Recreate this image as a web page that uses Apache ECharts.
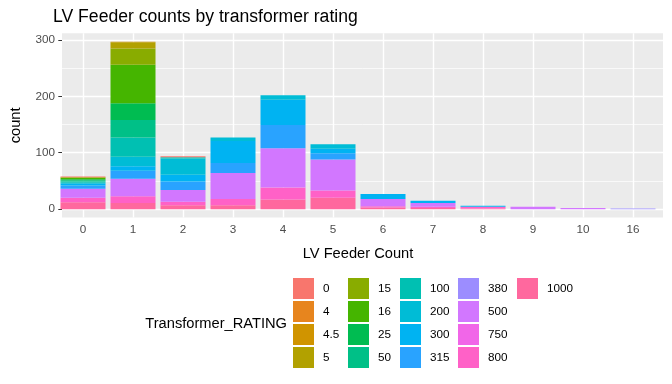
<!DOCTYPE html>
<html>
<head>
<meta charset="utf-8">
<script src="https://cdn.jsdelivr.net/npm/echarts@6/dist/echarts.min.js"></script>
<style>
html,body{margin:0;padding:0;background:#fff;}
#chart{width:672px;height:384px;}
</style>
</head>
<body>
<div id="chart"></div>
<script>
// ---- data ----
const categories = ['0','1','2','3','4','5','6','7','8','9','10','16'];
const ratings = ['0','4','4.5','5','15','16','25','50','100','200','300','315','380','500','750','800','1000'];
const r0    = [1, 0, 2, 0, 0, 0, 0, 0, 0, 0, 0, 0];
const r4    = [1, 0, 0, 0, 0, 0, 0, 0, 0, 0, 0, 0];
const r4_5  = [0, 1, 0, 0, 0, 0, 0, 0, 0, 0, 0, 0];
const r5    = [0, 11, 0, 0, 0, 0, 0, 0, 0, 0, 0, 0];
const r15   = [0, 29, 0, 0, 0, 0, 0, 0, 0, 0, 0, 0];
const r16   = [3, 68, 0, 0, 0, 0, 0, 0, 0, 0, 0, 0];
const r25   = [2, 30, 0, 0, 0, 0, 0, 0, 0, 0, 0, 0];
const r50   = [2, 31, 0, 0, 0, 0, 0, 0, 0, 0, 0, 0];
const r100  = [2, 34, 2, 0, 0, 0, 0, 0, 0, 0, 0, 0];
const r200  = [2, 17, 29, 6, 8, 8, 0, 0, 0, 0, 0, 0];
const r300  = [3, 8, 12, 39, 45, 8, 9, 4, 2, 0, 0, 0];
const r315  = [6, 14, 15, 18, 41, 11, 0, 0, 0, 0, 0, 0];
const r380  = [0, 0, 0, 0, 0, 0, 0, 0, 0, 0, 0, 1];
const r500  = [16, 31, 21, 46, 69, 55, 13, 7, 0, 4, 2, 0];
const r750  = [0, 0, 0, 0, 1, 0, 0, 0, 0, 0, 0, 0];
const r800  = [8, 12, 6, 11, 21, 13, 2, 2, 3, 0, 0, 0];
const r1000 = [12, 11, 7, 7, 17, 20, 3, 2, 1, 0, 0, 0];
const seriesValues = {
  '0': r0, '4': r4, '4.5': r4_5, '5': r5, '15': r15, '16': r16, '25': r25, '50': r50,
  '100': r100, '200': r200, '300': r300, '315': r315, '380': r380, '500': r500,
  '750': r750, '800': r800, '1000': r1000
};
const yTicks = [0, 100, 200, 300];
const yMinor = [50, 150, 250];

// ---- styles ----
const colors = {
  '0':'#F8766D','4':'#E7851E','4.5':'#D09400','5':'#B2A100','15':'#89AC00','16':'#45B500',
  '25':'#00BC51','50':'#00C087','100':'#00C0B2','200':'#00BCD6','300':'#00B3F2','315':'#29A3FF',
  '380':'#9C8DFF','500':'#D277FF','750':'#F166E8','800':'#FF61C7','1000':'#FF689E'
};
const FONT = '"Liberation Sans", Arial, sans-serif';
const Y_MIN = -14.85, Y_MAX = 311.85;

const chart = echarts.init(document.getElementById('chart'), null, {renderer: 'canvas'});

// ggplot stacks first level on top -> echarts bottom-first order is reversed
const barSeries = ratings.slice().reverse().map(r => ({
  name: r,
  type: 'bar',
  stack: 'total',
  xAxisIndex: 1,
  yAxisIndex: 1,
  barWidth: '90%',
  z: 5,
  itemStyle: {color: colors[r]},
  emphasis: {disabled: true},
  data: seriesValues[r]
}));

const hLines = {
  type: 'line', data: [], z: 1, silent: true,
  xAxisIndex: 0, yAxisIndex: 0,
  markLine: {
    z: 1, zlevel: 0,
    silent: true, symbol: ['none', 'none'], animation: false,
    label: {show: false}, emphasis: {disabled: true},
    lineStyle: {color: '#FFFFFF', type: 'solid', width: 1.4},
    data: [
      ...yTicks.map(v => ({yAxis: v, lineStyle: {color: '#fff', width: 1.4, type: 'solid'}})),
      ...yMinor.map(v => ({yAxis: v, lineStyle: {color: '#fff', width: 0.7, type: 'solid'}}))
    ]
  }
};
const vLines = {
  type: 'line', data: [], z: 1, silent: true,
  xAxisIndex: 1, yAxisIndex: 1,
  markLine: {
    z: 1, zlevel: 0,
    silent: true, symbol: ['none', 'none'], animation: false,
    label: {show: false}, emphasis: {disabled: true},
    lineStyle: {color: '#FFFFFF', type: 'solid', width: 1.4},
    data: categories.map(c => ({xAxis: c, lineStyle: {color: '#fff', width: 1.4, type: 'solid'}}))
  }
};

const legendCols = [ratings.slice(0,4), ratings.slice(4,8), ratings.slice(8,12), ratings.slice(12,16), ratings.slice(16)];
const legendLefts = [293, 348, 400, 458, 517];
const legends = legendCols.map((col, k) => ({
  orient: 'vertical',
  left: legendLefts[k],
  top: 278,
  padding: 0,
  itemWidth: 21,
  itemHeight: 21,
  itemGap: 2,
  icon: 'rect',
  selectedMode: false,
  data: col,
  textStyle: {fontFamily: FONT, fontSize: 11.7, color: '#000', padding: [0, 0, 0, 4]}
}));

chart.setOption({
  animation: false,
  backgroundColor: '#FFFFFF',
  title: {
    text: 'LV Feeder counts by transformer rating',
    left: 53, top: 8, padding: 0,
    textStyle: {fontFamily: FONT, fontSize: 17.6, fontWeight: 'normal', color: '#000'}
  },
  grid: [
    {left: 53, right: 9, top: 33.3, bottom: 166.5, show: true, backgroundColor: '#EBEBEB', borderWidth: 0},
    {left: 58, right: 14, top: 33.3, bottom: 166.5, show: false}
  ],
  legend: legends,
  graphic: [{
    type: 'text',
    x: 287, y: 324,
    style: {text: 'Transformer_RATING', align: 'right', verticalAlign: 'middle',
            font: '14.67px ' + FONT, fill: '#000'}
  }],
  xAxis: [
    {type: 'value', gridIndex: 0, min: 0, max: 1, show: false},
    {
      type: 'category', gridIndex: 1, data: categories,
      name: 'LV Feeder Count', nameLocation: 'middle', nameGap: 29,
      nameTextStyle: {fontFamily: FONT, fontSize: 14.67, color: '#000'},
      axisLine: {show: false},
      splitLine: {show: false},
      axisTick: {show: true, alignWithLabel: true, length: 3.7, lineStyle: {color: '#333333', width: 1}},
      axisLabel: {margin: 6, fontFamily: FONT, fontSize: 11.7, color: '#4D4D4D'}
    }
  ],
  yAxis: [
    {
      type: 'value', gridIndex: 0, min: Y_MIN, max: Y_MAX,
      name: 'count', nameLocation: 'middle', nameRotate: 90, nameGap: 39,
      nameTextStyle: {fontFamily: FONT, fontSize: 14.67, color: '#000'},
      axisLine: {show: false},
      splitLine: {show: false},
      axisTick: {show: true, length: 3.7, lineStyle: {color: '#333333', width: 1}, customValues: yTicks},
      axisLabel: {customValues: yTicks, margin: 7, fontFamily: FONT, fontSize: 11.7, color: '#4D4D4D',
                  formatter: v => String(Math.round(v))}
    },
    {type: 'value', gridIndex: 1, min: Y_MIN, max: Y_MAX, show: false}
  ],
  series: [hLines, vLines, ...barSeries]
});
</script>
</body>
</html>
